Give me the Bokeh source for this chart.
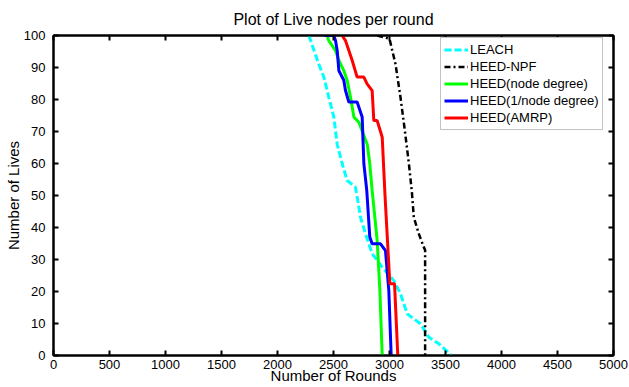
from bokeh.plotting import figure
from bokeh.models import Range1d, SingleIntervalTicker, LinearAxis, Legend, LegendItem, Title, CustomJSTickFormatter
from bokeh.embed import file_html
from bokeh.resources import INLINE

# Data
leach_x = [2280, 2369, 2414, 2458, 2503, 2533, 2577, 2622, 2696, 2717, 2741, 2786, 2845, 2935, 3039, 3098, 3158, 3277, 3351, 3440, 3554]
leach_y = [100, 91, 87, 80.7, 74.5, 66, 60, 54.7, 52.6, 48.4, 43.2, 38, 31.8, 27.6, 23.4, 19.3, 13, 9.9, 5.7, 3.7, 0]

npf_x = [2890, 3000, 3020, 3054, 3098, 3137, 3173, 3200, 3217, 3262, 3307, 3318, 3318]
npf_y = [100, 99, 96, 91, 80.7, 70.3, 60, 51, 43.2, 38, 33.8, 33, 0]

nd_x = [2443, 2458, 2518, 2548, 2592, 2622, 2652, 2682, 2726, 2801, 2824, 2845, 2890, 2914, 2935]
nd_y = [100, 98.4, 95.3, 92.2, 89, 86, 80.7, 74.5, 72.9, 66, 60, 51.6, 35.9, 20.3, 0]

ind_x = [2414, 2503, 2518, 2533, 2548, 2592, 2607, 2637, 2711, 2756, 2771, 2797, 2824, 2845, 2920, 2964, 2994, 3015]
ind_y = [100, 100, 98.4, 95.3, 89, 86, 82.8, 79.2, 79.2, 74.5, 60, 51.6, 37, 34.9, 34.9, 32.8, 20.3, 0]

amrp_x = [2577, 2607, 2637, 2667, 2711, 2771, 2800, 2845, 2860, 2890, 2935, 2960, 3003, 3045, 3074]
amrp_y = [100, 98.4, 95.3, 92.2, 87, 87, 84.9, 82.8, 73.4, 73.4, 68.2, 50, 22.4, 22.4, 0]

labels = ["LEACH", "HEED-NPF", "HEED(node degree)", "HEED(1/node degree)", "HEED(AMRP)"]

FONT = "Liberation Sans"

p = figure(width=629, height=387, output_backend="svg", toolbar_location=None,
           x_range=Range1d(0, 5000), y_range=Range1d(0, 100),
           min_border_left=53, min_border_right=16, min_border_top=35, min_border_bottom=32,
           background_fill_color="white", border_fill_color="white")

p.title = Title(text="Plot of Live nodes per round", align="center",
                text_font=FONT, text_font_size="16px", text_font_style="normal",
                text_color="black", standoff=7)

p.xgrid.visible = False
p.ygrid.visible = False
p.outline_line_color = "black"
p.outline_line_width = 2

def style_axis(ax, ticker, labels_on=True):
    ax.ticker = ticker
    ax.axis_line_color = "black"
    ax.axis_line_width = 2
    ax.major_tick_in = 5
    ax.major_tick_out = 0
    ax.major_tick_line_width = 2
    ax.minor_tick_line_color = None
    ax.major_label_text_font = FONT
    ax.major_label_text_font_size = "13px"
    ax.major_label_text_color = "black"
    ax.axis_label_text_font = FONT
    ax.axis_label_text_font_size = "15px"
    ax.axis_label_text_font_style = "normal"
    ax.axis_label_text_color = "black"
    if not labels_on:
        ax.formatter = CustomJSTickFormatter(code="return ''")
        ax.major_label_standoff = 0

style_axis(p.xaxis[0], SingleIntervalTicker(interval=500))
p.xaxis[0].axis_label = "Number of Rounds"
p.xaxis[0].major_label_standoff = 0
p.xaxis[0].axis_label_standoff = -5

style_axis(p.yaxis[0], SingleIntervalTicker(interval=10))
p.yaxis[0].axis_label = "Number of Lives"
p.yaxis[0].major_label_standoff = 4
p.yaxis[0].axis_label_standoff = -1

top = LinearAxis()
style_axis(top, SingleIntervalTicker(interval=500), labels_on=False)
p.add_layout(top, "above")
right = LinearAxis()
style_axis(right, SingleIntervalTicker(interval=10), labels_on=False)
p.add_layout(right, "right")

r1 = p.line(leach_x, leach_y, line_color="#00FFFF", line_width=3, line_dash="7 3")
r2 = p.line(npf_x, npf_y, line_color="black", line_width=2.5, line_dash="6 3 2 3")
r3 = p.line(nd_x, nd_y, line_color="#00FF00", line_width=3)
r4 = p.line(ind_x, ind_y, line_color="#0000FF", line_width=3)
r5 = p.line(amrp_x, amrp_y, line_color="#FF0000", line_width=3)

legend = Legend(items=[LegendItem(label=l, renderers=[r]) for l, r in zip(labels, [r1, r2, r3, r4, r5])],
                location=(387, 225))
legend.label_text_font = FONT
legend.label_text_font_size = "13px"
legend.label_text_color = "black"
legend.glyph_width = 24
legend.glyph_height = 17
legend.label_height = 17
legend.label_standoff = 2
legend.spacing = 0
legend.padding = 3
legend.margin = 0
legend.border_line_color = "#888888"
legend.border_line_width = 1
legend.background_fill_color = "white"
legend.background_fill_alpha = 1
p.add_layout(legend, "center")

open("out.html", "w").write(file_html(p, INLINE))
